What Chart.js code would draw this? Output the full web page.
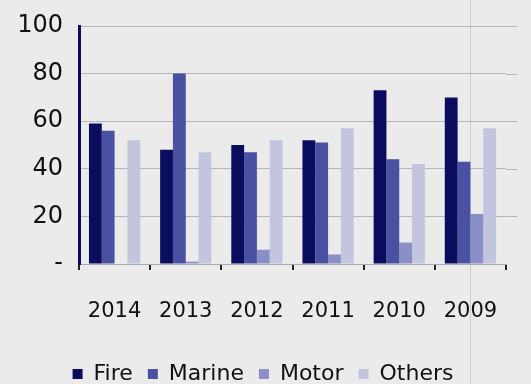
<!DOCTYPE html>
<html>
<head>
<meta charset="utf-8">
<script src="https://cdn.jsdelivr.net/npm/chart.js@4"></script>
<style>
  html, body { margin: 0; padding: 0; background: #ebebec; }
  #wrap { width: 531px; height: 384px; }
</style>
</head>
<body>
<div id="wrap"><canvas id="premiumChart"></canvas></div>
<script>
  // years as printed, newest first
  const YEARS = ['2014', '2013', '2012', '2011', '2010', '2009'];
  const FIRE = [59, 48, 50, 52, 73, 70];
  const MARINE = [56, 80, 47, 51, 44, 43];
  const MOTOR = [0, 1, 6, 4, 9, 21];
  const OTHERS = [52, 47, 52, 57, 42, 57];
  const Y_TICKS = [0, 20, 40, 60, 80, 100];

  const NAVY = '#0c0c5e';
  const FONT = 'DejaVu Sans';
  const GRID = '#b4b4bd';

  var paperBg = {
    id: 'paperBg',
    beforeDraw: function (chart) {
      var ctx = chart.ctx;
      ctx.save();
      ctx.fillStyle = '#ebebec';
      ctx.fillRect(0, 0, chart.width, chart.height);
      // faint page fold in the scan
      ctx.strokeStyle = '#cfcfd2';
      ctx.lineWidth = 1;
      ctx.beginPath();
      ctx.moveTo(470.5, 0);
      ctx.lineTo(470.5, chart.height);
      ctx.stroke();
      ctx.restore();
    },
    // gridlines run a little past the last tick in the original
    beforeDatasetsDraw: function (chart) {
      var ctx = chart.ctx;
      var y = chart.scales.y;
      var right = chart.chartArea.right;
      ctx.save();
      ctx.strokeStyle = GRID;
      ctx.lineWidth = 1;
      Y_TICKS.forEach(function (v) {
        if (v === 0) return;
        var py = Math.round(y.getPixelForValue(v)) + 0.5;
        ctx.beginPath();
        ctx.moveTo(right, py);
        ctx.lineTo(right + 11, py);
        ctx.stroke();
      });
      ctx.restore();
    }
  };

  new Chart(document.getElementById('premiumChart'), {
    type: 'bar',
    data: {
      labels: YEARS,
      datasets: [
        { label: 'Fire', data: FIRE, backgroundColor: NAVY },
        { label: 'Marine', data: MARINE, backgroundColor: '#4a50a2' },
        { label: 'Motor', data: MOTOR, backgroundColor: '#8a8fc5' },
        { label: 'Others', data: OTHERS, backgroundColor: '#c3c5df' }
      ]
    },
    options: {
      responsive: true,
      maintainAspectRatio: false,
      animation: false,
      layout: { padding: { top: 26, right: 25, left: 20, bottom: -11 } },
      datasets: {
        bar: { categoryPercentage: 0.72, barPercentage: 1.0 }
      },
      plugins: {
        tooltip: { enabled: false },
        legend: {
          position: 'bottom',
          labels: {
            boxWidth: 10,
            boxHeight: 10,
            padding: 15,
            color: '#111',
            font: { family: FONT, size: 22 }
          }
        }
      },
      scales: {
        x: {
          grid: {
            drawOnChartArea: false,
            drawTicks: true,
            tickLength: 6,
            color: '#222',
            lineWidth: 2
          },
          border: { display: true, color: '#a9a9b3', width: 1 },
          ticks: {
            padding: 29,
            color: '#111',
            maxRotation: 0,
            font: { family: FONT, size: 21 }
          },
          afterFit: function (scale) { scale.height = 84; }
        },
        y: {
          min: 0,
          max: 100,
          afterBuildTicks: function (scale) {
            scale.ticks = Y_TICKS.map(function (v) { return { value: v }; });
          },
          grid: { color: GRID, lineWidth: 1, drawTicks: false },
          border: { display: true, color: NAVY, width: 3 },
          ticks: {
            padding: 16,
            color: '#111',
            font: { family: FONT, size: 24, lineHeight: 0.8 },
            callback: function (v) { return v === 0 ? '-' : v; }
          },
          afterFit: function (scale) { scale.width = 59; }
        }
      }
    },
    plugins: [paperBg]
  });
</script>
</body>
</html>
